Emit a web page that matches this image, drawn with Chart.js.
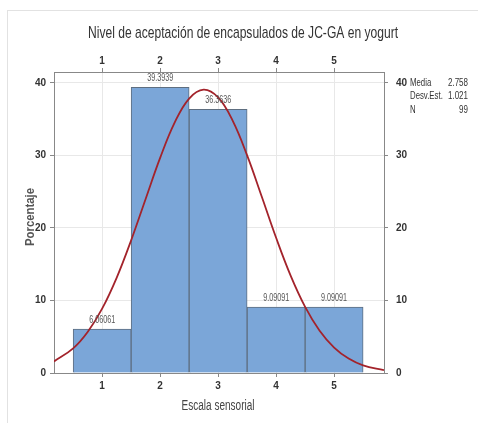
<!DOCTYPE html>
<html><head><meta charset="utf-8">
<script src="https://cdn.jsdelivr.net/npm/chart.js@4/dist/chart.umd.min.js"></script>
<style>
html,body{margin:0;padding:0;background:#fff;}
#wrap{position:relative;width:478px;height:423px;overflow:hidden;}
#frame{position:absolute;left:7px;top:10px;width:480px;height:420px;border-left:1px solid #e2e2e2;border-top:1px solid #e2e2e2;}
canvas{position:absolute;left:0;top:0;}
</style></head>
<body>
<div id="wrap"><div id="frame"></div><canvas id="c" width="478" height="423"></canvas></div>
<script>
const title = "Nivel de aceptación de encapsulados de JC-GA en yogurt";
const xTitle = "Escala sensorial";
const yTitle = "Porcentaje";
const categories = [1, 2, 3, 4, 5];
const percentages = [6.06061, 39.3939, 36.3636, 9.09091, 9.09091];
const barLabels = ["6.06061", "39.3939", "36.3636", "9.09091", "9.09091"];
const curveX = [0.17, 0.5, 0.75, 1.0, 1.25, 1.5, 1.75, 2.0, 2.25, 2.5, 2.75, 3.0, 3.25, 3.5, 3.75, 4.0, 4.25, 4.5, 4.75, 5.0, 5.25, 5.5, 5.86];
const curveY = [1.6, 3.39, 5.65, 8.87, 13.12, 18.29, 24.0, 29.66, 34.52, 37.84, 39.07, 37.99, 34.79, 30.0, 24.37, 18.64, 13.43, 9.12, 5.83, 3.51, 1.99, 1.06, 0.4];
const xTicks = [1, 2, 3, 4, 5];
const yTicks = [0, 10, 20, 30, 40];
const statNames = ["Media", "Desv.Est.", "N"];
const statValues = ["2.758", "1.021", "99"];

const FONT = "'Liberation Sans', Arial, sans-serif";
const tickFont = {family: FONT, size: 10, weight: 'bold'};
const xmin = 0.17, xmax = 5.86, ymin = 0, ymax = 41.5;

const setTicks = vals => scale => { scale.ticks = vals.map(v => ({value: v})); };

// draw text squeezed horizontally to a target width (emulates the narrow original font)
function fitText(ctx, text, x, y, width, align) {
  const w = ctx.measureText(text).width;
  const s = Math.min(1, width / w);
  ctx.save();
  ctx.translate(x, y);
  ctx.scale(s, 1);
  ctx.textAlign = align || 'center';
  ctx.fillText(text, 0, 0);
  ctx.restore();
}

const textPlugin = {
  id: 'texts',
  afterDatasetsDraw(chart) {
    const ctx = chart.ctx;
    ctx.save();
    const meta = chart.getDatasetMeta(0);
    ctx.fillStyle = '#555';
    ctx.font = "10px " + FONT;
    ctx.textBaseline = 'middle';
    meta.data.forEach((el, i) => { fitText(ctx, barLabels[i], el.x, el.y - 9, 26, 'center'); });
    ctx.restore();
  },
  afterDraw(chart) {
    const ctx = chart.ctx;
    ctx.save();
    ctx.textBaseline = 'middle';
    ctx.fillStyle = '#333';
    ctx.font = "17px " + FONT;
    fitText(ctx, title, 243, 33, 310, 'center');
    ctx.fillStyle = '#444';
    ctx.font = "14px " + FONT;
    fitText(ctx, xTitle, 218, 406, 73, 'center');
    ctx.save();
    ctx.translate(30, 217);
    ctx.rotate(-Math.PI / 2);
    ctx.font = "bold 13px " + FONT;
    ctx.fillStyle = '#555';
    fitText(ctx, yTitle, 0, 0, 58, 'center');
    ctx.restore();
    ctx.font = "10px " + FONT;
    ctx.fillStyle = '#333';
    statNames.forEach((n, i) => {
      const y = 83 + i * 13.5;
      const w = ctx.measureText(n).width * 0.78;
      fitText(ctx, n, 410, y, w, 'left');
      fitText(ctx, statValues[i], 468, y, ctx.measureText(statValues[i]).width * 0.8, 'right');
    });
    ctx.restore();
  }
};

new Chart(document.getElementById('c'), {
  data: {
    datasets: [
      {
        type: 'bar',
        data: categories.map((c, i) => ({x: c, y: percentages[i]})),
        backgroundColor: '#7BA6D8',
        borderColor: '#5E6E80',
        borderWidth: 1,
        barPercentage: 1,
        categoryPercentage: 1,
        grouped: false,
        order: 2,
        xAxisID: 'x', yAxisID: 'y'
      },
      {
        type: 'line',
        data: curveX.map((x, i) => ({x: x, y: curveY[i]})),
        borderColor: '#A3232B',
        borderWidth: 1.8,
        pointRadius: 0,
        tension: 0.4,
        fill: false,
        order: 1,
        xAxisID: 'x', yAxisID: 'y'
      }
    ]
  },
  options: {
    responsive: false,
    animation: false,
    layout: {padding: 0},
    plugins: {legend: {display: false}, tooltip: {enabled: false}, title: {display: false}},
    scales: {
      x: {
        type: 'linear', position: 'bottom', min: xmin, max: xmax, offset: false,
        afterBuildTicks: setTicks(xTicks),
        afterFit: s => { s.height = 50; },
        grid: {color: '#e8e8e8', tickColor: '#888', tickLength: 4, offset: false},
        border: {display: true, color: '#888'},
        ticks: {font: tickFont, color: '#333', padding: 3}
      },
      x2: {
        type: 'linear', position: 'top', min: xmin, max: xmax, offset: false,
        afterBuildTicks: setTicks(xTicks),
        afterFit: s => { s.height = 72; },
        grid: {drawOnChartArea: false, color: '#888', tickLength: 4},
        border: {display: true, color: '#888'},
        ticks: {font: tickFont, color: '#333', padding: 1}
      },
      y: {
        type: 'linear', position: 'left', min: ymin, max: ymax,
        afterBuildTicks: setTicks(yTicks),
        afterFit: s => { s.width = 54; },
        grid: {color: '#e8e8e8', tickColor: '#888', tickLength: 4},
        border: {display: true, color: '#888'},
        ticks: {font: tickFont, color: '#333', padding: 4}
      },
      y2: {
        type: 'linear', position: 'right', min: ymin, max: ymax,
        afterBuildTicks: setTicks(yTicks),
        afterFit: s => { s.width = 94; },
        grid: {drawOnChartArea: false, color: '#888', tickLength: 4},
        border: {display: true, color: '#888'},
        ticks: {font: tickFont, color: '#333', padding: 8}
      }
    }
  },
  plugins: [textPlugin]
});
</script>
</body></html>
